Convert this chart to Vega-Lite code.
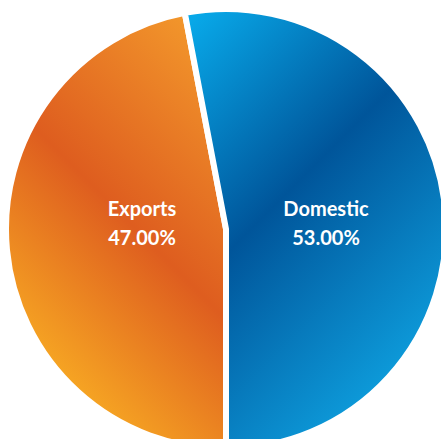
{
  "$schema": "https://vega.github.io/schema/vega-lite/v6.json",
  "width": 434,
  "height": 434,
  "autosize": {"type": "none"},
  "padding": {"left": 9, "top": 12, "right": 0, "bottom": 0},
  "background": "white",
  "config": {"view": {"stroke": null}},
  "data": {
    "values": [
      {"category": "Exports", "share": 0.47},
      {"category": "Domestic", "share": 0.53}
    ]
  },
  "encoding": {
    "theta": {"field": "share", "type": "quantitative", "stack": true},
    "order": {"field": "category", "sort": "descending"}
  },
  "layer": [
    {
      "mark": {"type": "arc", "outerRadius": 220, "stroke": "white", "strokeWidth": 6, "strokeJoin": "round"},
      "encoding": {
        "theta": {"field": "share", "type": "quantitative", "stack": true, "scale": {"range": [3.14159265, 9.42477796]}},
        "color": {
          "condition": {
            "test": "datum.category === 'Domestic'",
            "value": {
              "gradient": "linear", "x1": 0, "y1": 0.041, "x2": 0.622, "y2": 1.088,
              "stops": [
                {"offset": 0, "color": "#08a8e8"},
                {"offset": 0.43, "color": "#00559a"},
                {"offset": 1, "color": "#10aae8"}
              ]
            }
          },
          "value": {
            "gradient": "linear", "x1": 1, "y1": 0.105, "x2": 0.546, "y2": 1.004,
            "stops": [
              {"offset": 0, "color": "#f2962b"},
              {"offset": 0.53, "color": "#de5d1f"},
              {"offset": 1, "color": "#f7a823"}
            ]
          }
        }
      }
    },
    {
      "mark": {"type": "text", "radius": 92, "dx": 8, "dy": -13, "baseline": "alphabetic", "align": "center", "font": "Lato", "fontWeight": "bold", "fontSize": 20, "color": "white"},
      "encoding": {
        "theta": {"field": "share", "type": "quantitative", "stack": true, "scale": {"range": [3.23584, 9.51902]}},
        "text": {"field": "category", "type": "nominal"}
      }
    },
    {
      "mark": {"type": "text", "radius": 92, "dx": 8, "dy": 16, "baseline": "alphabetic", "align": "center", "font": "Lato", "fontWeight": "bold", "fontSize": 20, "color": "white"},
      "encoding": {
        "theta": {"field": "share", "type": "quantitative", "stack": true, "scale": {"range": [3.23584, 9.51902]}},
        "text": {"field": "share", "type": "quantitative", "format": ".2%"}
      }
    }
  ],
  "resolve": {"scale": {"theta": "independent"}}
}
